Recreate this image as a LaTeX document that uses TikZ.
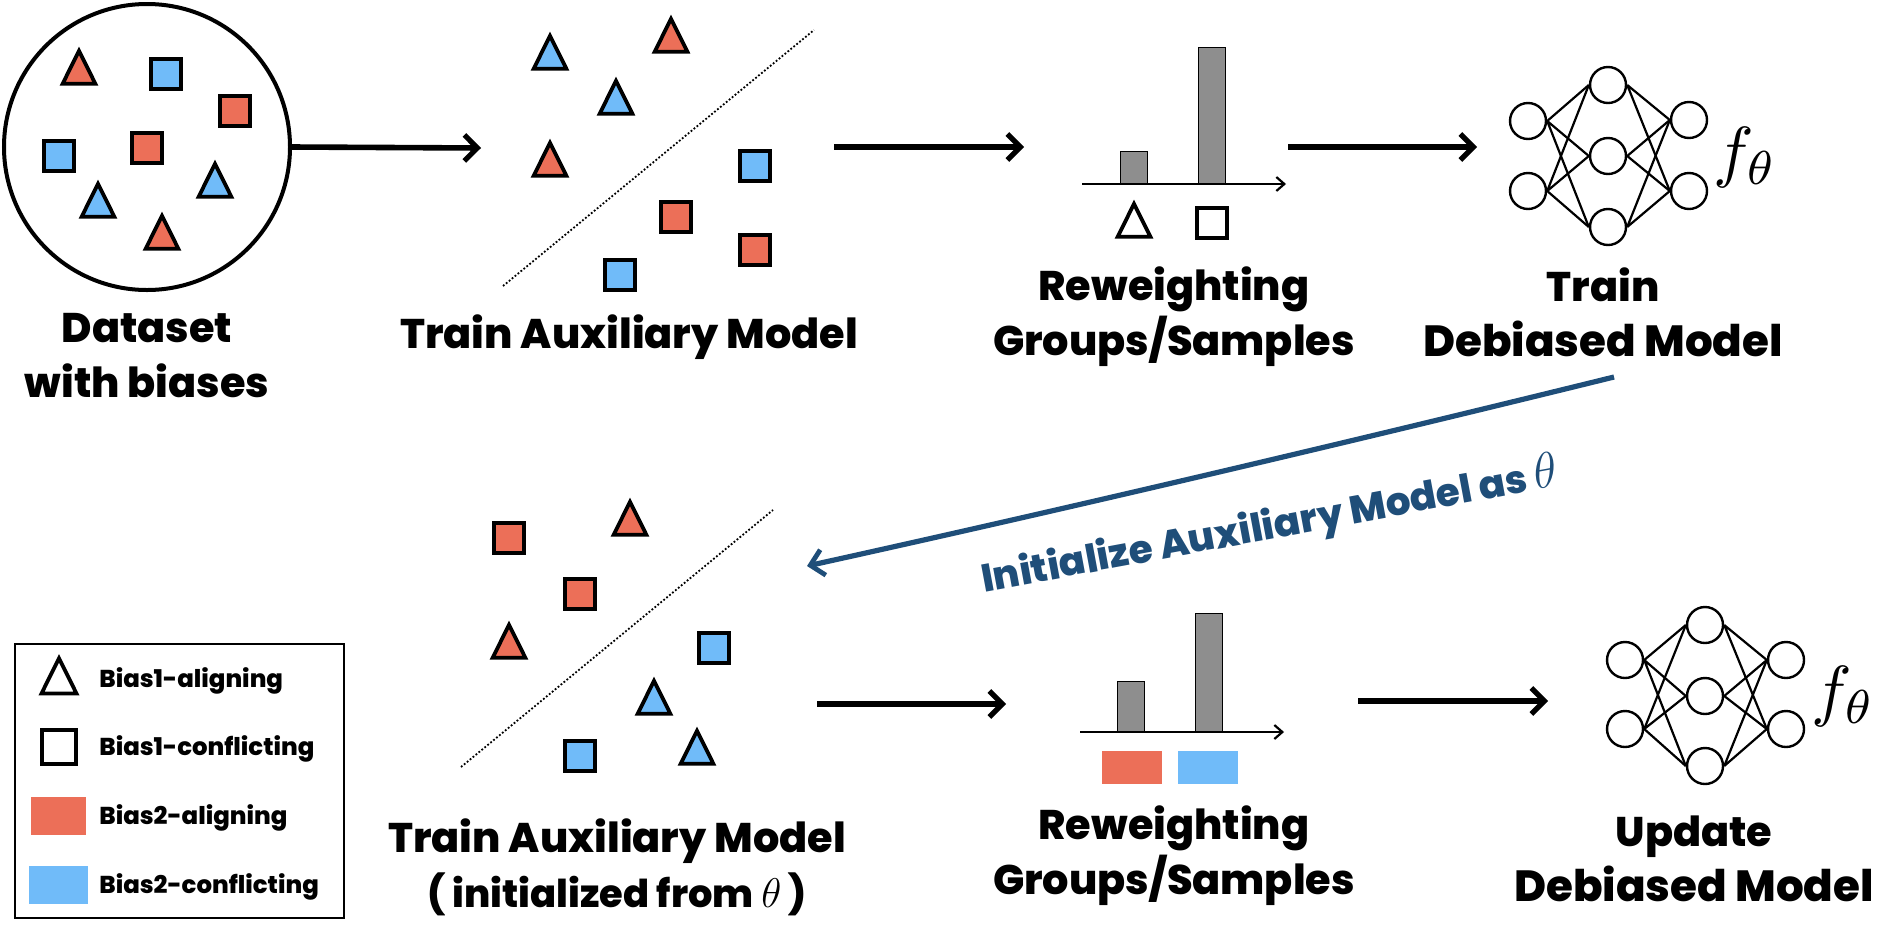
\documentclass[tikz,border=0pt]{standalone}
\usepackage{fontspec}
\setmainfont{Poppins}[BoldFont={Poppins ExtraBold}]
\usetikzlibrary{arrows.meta,shapes.geometric}
\definecolor{biasRed}{HTML}{EC6F58}
\definecolor{biasBlue}{HTML}{70BBF9}
\definecolor{initBlue}{HTML}{1F4E79}
\definecolor{barGray}{HTML}{8E8E8E}
\begin{document}
\begin{tikzpicture}[x=0.5pt,y=-0.5pt]
		\tikzstyle{Square} = [rectangle, minimum size=15pt, inner sep=0pt, draw=black, line width=1.9pt]
		\tikzstyle{Tri} = [isosceles triangle, shape border rotate=90, isosceles triangle apex angle=53, minimum height=16.4pt, minimum width=15.4pt, inner sep=0pt, yshift=-1.8pt, draw=black, line width=1.9pt]
		\tikzstyle{Neuron} = [circle, minimum size=18pt, inner sep=0pt, draw=black, line width=1.2pt, fill=white]
		\tikzstyle{Bar} = [rectangle, minimum width=13.2pt, inner sep=0pt, anchor=south, draw=black, line width=0.6pt, fill=barGray]
		\tikzstyle{Swatch} = [rectangle, inner sep=0pt, minimum height=19pt]
		\tikzstyle{Title} = [align=center, inner sep=0pt, font=\fontsize{20.7}{27.5}\selectfont\bfseries]
		\tikzstyle{LegendText} = [anchor=west, inner sep=0pt, font=\fontsize{12.2}{14}\selectfont\bfseries]
		\tikzstyle{arrow} = [line width=2.8pt, -{Straight Barb[length=6.5pt,width=13pt,line width=2.6pt]}]
		\tikzstyle{axis} = [line width=1.1pt, -{Straight Barb[length=4pt,width=7pt]}]
		\tikzstyle{boundary} = [densely dotted, line width=0.9pt]
		\tikzstyle{net} = [line width=1.1pt]

		\useasboundingbox (0,0) rectangle (1882,927);

		\node (dataset) [circle, minimum size=143pt, inner sep=0pt, draw=black, line width=2pt] at (147,147) {};
		\node (d1) [Tri, fill=biasRed] at (79,70) {};
		\node (d2) [Square, fill=biasBlue] at (166,74) {};
		\node (d3) [Square, fill=biasRed] at (235,111) {};
		\node (d4) [Square, fill=biasRed] at (147,148) {};
		\node (d5) [Square, fill=biasBlue] at (59,156) {};
		\node (d6) [Tri, fill=biasBlue] at (98,203) {};
		\node (d7) [Tri, fill=biasBlue] at (215,183) {};
		\node (d8) [Tri, fill=biasRed] at (162,235) {};
		\node (datasetText) [Title] at (147,356) {Dataset\\with biases};

		\node (a1) [Tri, fill=biasBlue] at (550,55) {};
		\node (a2) [Tri, fill=biasRed] at (671,38) {};
		\node (a3) [Tri, fill=biasBlue] at (616,100) {};
		\node (a4) [Tri, fill=biasRed] at (550,162) {};
		\node (a5) [Square, fill=biasBlue] at (755,166) {};
		\node (a6) [Square, fill=biasRed] at (676,217) {};
		\node (a7) [Square, fill=biasRed] at (755,250) {};
		\node (a8) [Square, fill=biasBlue] at (620,275) {};
		\coordinate (aLow) at (503,286);
		\coordinate (aHigh) at (814,30);
		\draw [boundary] (aLow) -- (aHigh);
		\node (auxText) [Title] at (629,337) {Train Auxiliary Model};

		\coordinate (auxEnd) at (481,148);
		\draw [arrow] (dataset.east) -- (auxEnd);
		\coordinate (rwStart) at (834,147);
		\coordinate (rwEnd) at (1024,147);
		\draw [arrow] (rwStart) -- (rwEnd);

		\coordinate (axisLeft) at (1082,184);
		\coordinate (axisRight) at (1286,184);
		\node (triBar) [Bar, minimum height=16pt] at (1134,184) {};
		\node (sqBar) [Bar, minimum height=68pt] at (1212,184) {};
		\draw [axis] (axisLeft) -- (axisRight);
		\node (triMark) [Tri, fill=white] at (1134,223) {};
		\node (sqMark) [Square, fill=white] at (1212,223) {};
		\node (rwText) [Title] at (1174,317) {Reweighting\\Groups/Samples};

		\coordinate (netStart) at (1288,147);
		\coordinate (netEnd) at (1477,147);
		\draw [arrow] (netStart) -- (netEnd);

		\node (n1) [Neuron] at (1528,121) {};
		\node (n2) [Neuron] at (1528,191) {};
		\node (n3) [Neuron] at (1608,85) {};
		\node (n4) [Neuron] at (1608,156) {};
		\node (n5) [Neuron] at (1608,227) {};
		\node (n6) [Neuron] at (1689,120) {};
		\node (n7) [Neuron] at (1689,191) {};
		\draw [net] (n1.east) -- (n3.west) (n1.east) -- (n4.west) (n1.east) -- (n5.west);
		\draw [net] (n2.east) -- (n3.west) (n2.east) -- (n4.west) (n2.east) -- (n5.west);
		\draw [net] (n3.east) -- (n6.west) (n3.east) -- (n7.west);
		\draw [net] (n4.east) -- (n6.west) (n4.east) -- (n7.west);
		\draw [net] (n5.east) -- (n6.west) (n5.east) -- (n7.west);
		\node (fUp) [inner sep=0pt, scale=3.4] at (1745,157) {$f_\theta$};
		\node (netText) [Title] at (1603,312) {Train\\{\fontsize{21.8}{27.5}\selectfont Debiased Model}};

		\coordinate (initStart) at (1614,377);
		\coordinate (initEnd) at (807,566);
		\draw [line width=2.6pt, color=initBlue, -{Straight Barb[length=6.5pt,width=13pt,line width=2.4pt]}] (initStart) .. controls (1350,442) and (1070,508) .. (initEnd);
		\node (initText) [inner sep=0pt, rotate=10.5, text=initBlue, font=\fontsize{19.5}{24}\selectfont\bfseries] at (1270,527) {Initialize Auxiliary Model as {\fontsize{24.88}{24}\selectfont$\theta$}};

		\node (b1) [Square, fill=biasRed] at (509,538) {};
		\node (b2) [Tri, fill=biasRed] at (630,521) {};
		\node (b3) [Square, fill=biasRed] at (580,594) {};
		\node (b4) [Tri, fill=biasRed] at (509,644) {};
		\node (b5) [Square, fill=biasBlue] at (714,648) {};
		\node (b6) [Tri, fill=biasBlue] at (654,700) {};
		\node (b7) [Tri, fill=biasBlue] at (697,750) {};
		\node (b8) [Square, fill=biasBlue] at (580,756) {};
		\coordinate (bLow) at (461,767);
		\coordinate (bHigh) at (773,510);
		\draw [boundary] (bLow) -- (bHigh);
		\node (auxTextB) [Title] at (617,867) {Train Auxiliary Model\\{\fontsize{19.2}{20}\selectfont ( initialized from $\theta$ )}};

		\coordinate (rwStartB) at (817,704);
		\coordinate (rwEndB) at (1006,704);
		\draw [arrow] (rwStartB) -- (rwEndB);

		\coordinate (axisLeftB) at (1080,732);
		\coordinate (axisRightB) at (1284,732);
		\node (redBar) [Bar, minimum height=25pt] at (1131,732) {};
		\node (blueBar) [Bar, minimum height=59pt] at (1209,732) {};
		\draw [axis] (axisLeftB) -- (axisRightB);
		\node (redMark) [Swatch, minimum width=30pt, minimum height=16.5pt, fill=biasRed] at (1132,767) {};
		\node (blueMark) [Swatch, minimum width=30pt, minimum height=16.5pt, fill=biasBlue] at (1208,767) {};
		\node (rwTextB) [Title] at (1174,856) {Reweighting\\Groups/Samples};

		\coordinate (netStartB) at (1358,701);
		\coordinate (netEndB) at (1548,701);
		\draw [arrow] (netStartB) -- (netEndB);

		\node (m1) [Neuron] at (1625,660) {};
		\node (m2) [Neuron] at (1625,729) {};
		\node (m3) [Neuron] at (1705,625) {};
		\node (m4) [Neuron] at (1705,696) {};
		\node (m5) [Neuron] at (1705,766) {};
		\node (m6) [Neuron] at (1786,660) {};
		\node (m7) [Neuron] at (1786,729) {};
		\draw [net] (m1.east) -- (m3.west) (m1.east) -- (m4.west) (m1.east) -- (m5.west);
		\draw [net] (m2.east) -- (m3.west) (m2.east) -- (m4.west) (m2.east) -- (m5.west);
		\draw [net] (m3.east) -- (m6.west) (m3.east) -- (m7.west);
		\draw [net] (m4.east) -- (m6.west) (m4.east) -- (m7.west);
		\draw [net] (m5.east) -- (m6.west) (m5.east) -- (m7.west);
		\node (fDown) [inner sep=0pt, scale=3.4] at (1843,696) {$f_\theta$};
		\node (netTextB) [Title] at (1694,859) {Update\\{\fontsize{21.8}{27.5}\selectfont Debiased Model}};

		\node (legend) [rectangle, minimum width=164.5pt, minimum height=137pt, inner sep=0pt, draw=black, line width=1pt] at (179.5,781) {};
		\node (lTri) [Tri, minimum height=17.5pt, minimum width=16.5pt, fill=white] at (59,679) {};
		\node (lSq) [Square, minimum size=17pt, fill=white] at (59,747) {};
		\node (lRed) [Swatch, minimum width=27.5pt, fill=biasRed] at (58.5,816) {};
		\node (lBlue) [Swatch, minimum width=29.5pt, fill=biasBlue] at (58.5,885) {};
		\node (lTriText) [LegendText] at (99,681) {Bias1-aligning};
		\node (lSqText) [LegendText] at (99,749) {Bias1-conflicting};
		\node (lRedText) [LegendText] at (99,818) {Bias2-aligning};
		\node (lBlueText) [LegendText] at (99,887) {Bias2-conflicting};
\end{tikzpicture}
\end{document}
